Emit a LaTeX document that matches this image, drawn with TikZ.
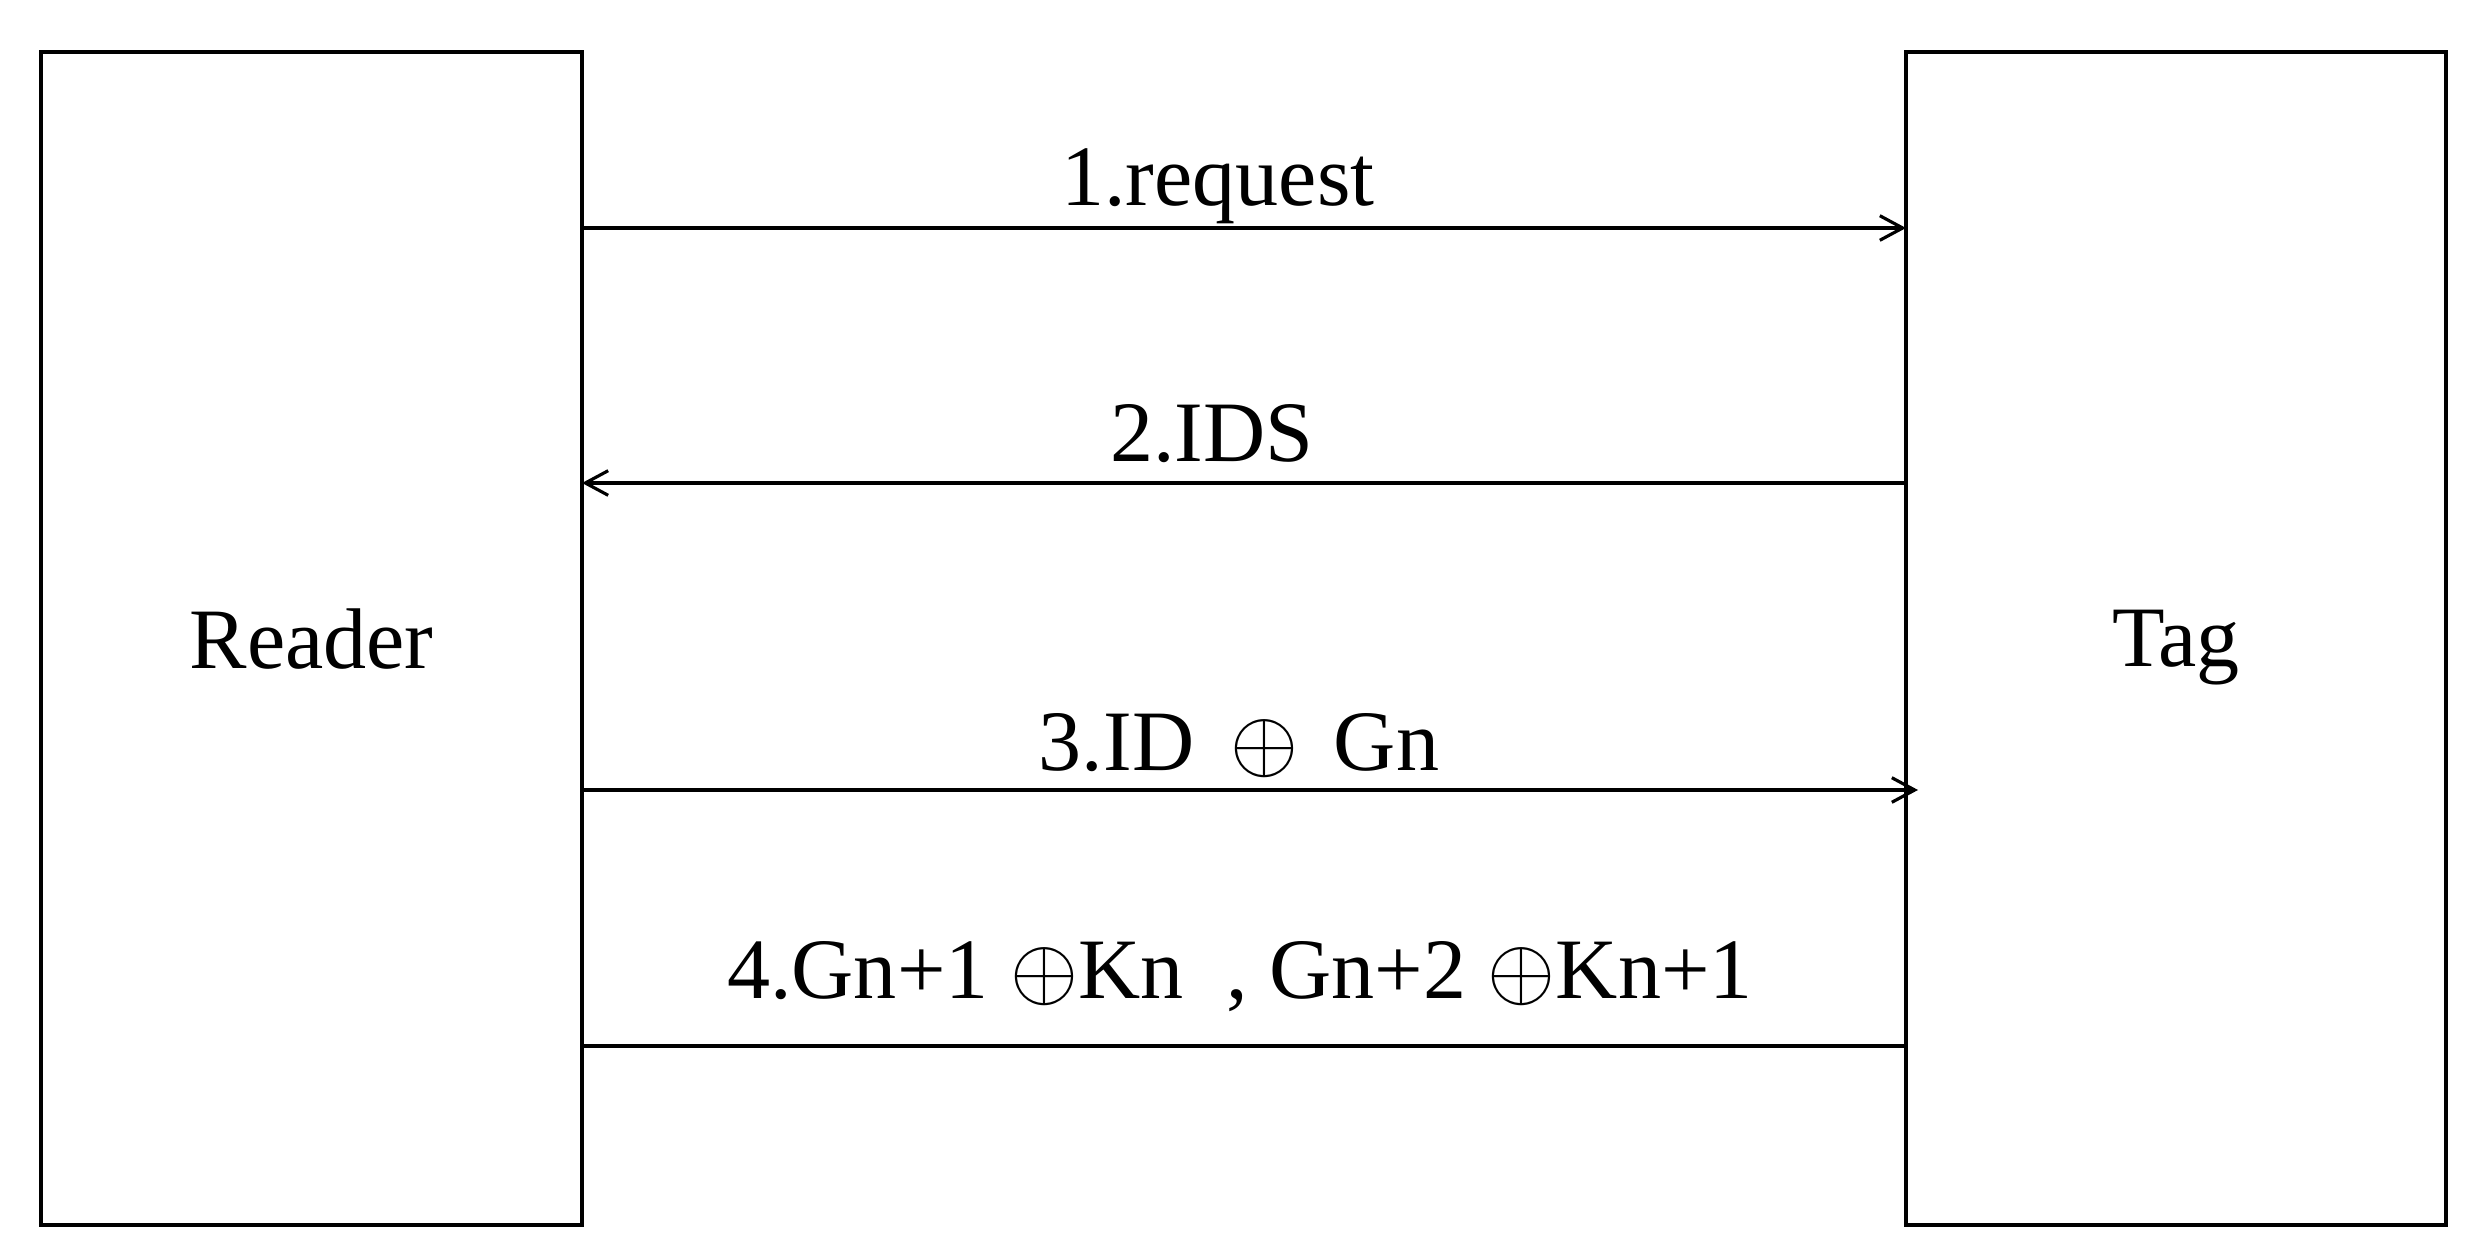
\documentclass[tikz,border=0pt]{standalone}
\usepackage{fontspec}
\setmainfont{Liberation Serif}
\usetikzlibrary{arrows.meta,calc}

\begin{document}
\begin{tikzpicture}[>={Straight Barb[length=6.5pt,width=7pt]}, line width=0.9pt,
    font=\fontsize{24.5}{29}\selectfont,
    party/.style={draw, outer sep=0pt, text depth=0pt, minimum height=11.73cm},
    msg/.style={midway, anchor=base}]
  \useasboundingbox (0, 0) rectangle (24.9, -12.56);

  \node[party, minimum width=5.41cm] (reader) at (3.115, -6.385) {Reader};
  \node[party, minimum width=5.40cm] (tag) at (21.76, -6.385) {Tag};

  \draw[->] (reader.east |- 0, -2.28) -- (tag.west |- 0, -2.28)
    node[msg, yshift=0.22cm, xshift=-0.26cm] {1.request};
  \draw[->] (tag.west |- 0, -4.83) -- (reader.east |- 0, -4.83)
    node[msg, yshift=0.22cm, xshift=-0.32cm] {2.IDS};
  \draw[->] (reader.east |- 0, -7.90) -- ($(tag.west |- 0, -7.90) + (0.12, 0)$)
    node[msg, yshift=0.20cm, xshift=-0.11cm] {3.ID \,$\oplus$\, Gn};
  \draw (reader.east |- 0, -10.46) -- (tag.west |- 0, -10.46)
    node[msg, yshift=0.48cm, xshift=-0.04cm] {4.Gn+1 $\oplus$Kn\ \ , Gn+2 $\oplus$Kn+1};
\end{tikzpicture}
\end{document}
